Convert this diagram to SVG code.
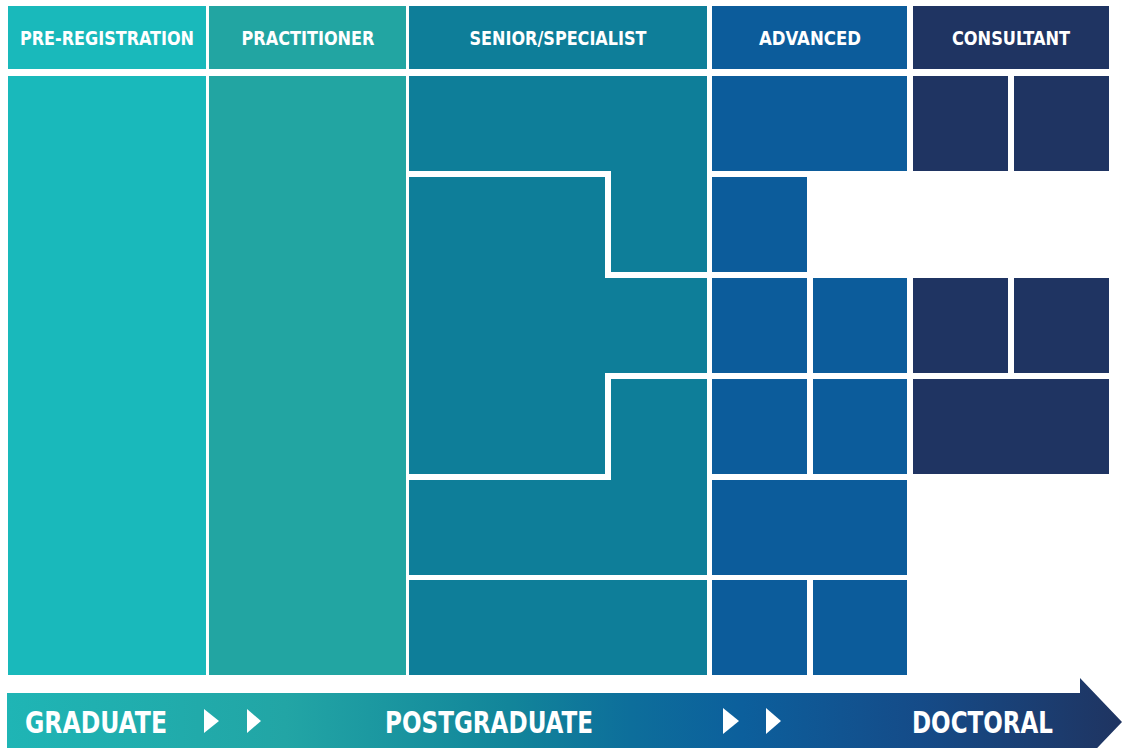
<svg xmlns="http://www.w3.org/2000/svg" width="1129" height="748" viewBox="0 0 1129 748">
  <defs>
    <linearGradient id="barGrad" gradientUnits="userSpaceOnUse" x1="7" y1="0" x2="1122" y2="0">
      <stop offset="0" stop-color="#1fb5b5"/>
      <stop offset="0.25" stop-color="#22a5a5"/>
      <stop offset="0.45" stop-color="#12859a"/>
      <stop offset="0.56" stop-color="#0d6e9b"/>
      <stop offset="0.66" stop-color="#0c5f9c"/>
      <stop offset="0.82" stop-color="#154b88"/>
      <stop offset="1" stop-color="#1f3461"/>
    </linearGradient>
    <style>
      .pre { fill: #19b9bb; }
      .prac { fill: #22a5a2; }
      .sen { fill: #0e7e99; }
      .adv { fill: #0c5c9b; }
      .con { fill: #1f3462; }
      .hdr { font-family: "DejaVu Sans Condensed", "Liberation Sans Narrow", "Liberation Sans", sans-serif; font-weight: bold; font-size: 19px; fill: #ffffff; text-anchor: middle; }
      .lvl { font-family: "DejaVu Sans Condensed", "Liberation Sans Narrow", "Liberation Sans", sans-serif; font-weight: bold; font-size: 30px; fill: #ffffff; }
      .tri { fill: #ffffff; }
    </style>
  </defs>

  <rect x="0" y="0" width="1129" height="748" fill="#ffffff"/>

  <!-- Headers -->
  <g id="hdr-pre"><rect class="pre" x="8" y="6" width="198" height="63"/><text class="hdr" x="107" y="45" textLength="174" lengthAdjust="spacingAndGlyphs">PRE-REGISTRATION</text></g>
  <g id="hdr-prac"><rect class="prac" x="209" y="6" width="197" height="63"/><text class="hdr" x="308" y="45" textLength="133" lengthAdjust="spacingAndGlyphs">PRACTITIONER</text></g>
  <g id="hdr-sen"><rect class="sen" x="409" y="6" width="298" height="63"/><text class="hdr" x="558" y="45" textLength="177" lengthAdjust="spacingAndGlyphs">SENIOR/SPECIALIST</text></g>
  <g id="hdr-adv"><rect class="adv" x="712" y="6" width="195" height="63"/><text class="hdr" x="810" y="45" textLength="102" lengthAdjust="spacingAndGlyphs">ADVANCED</text></g>
  <g id="hdr-con"><rect class="con" x="913" y="6" width="196" height="63"/><text class="hdr" x="1011" y="45" textLength="118" lengthAdjust="spacingAndGlyphs">CONSULTANT</text></g>

  <!-- Pre-registration / practitioner columns -->
  <g id="col-pre"><rect class="pre" x="8" y="76" width="198" height="599"/></g>
  <g id="col-prac"><rect class="prac" x="209" y="76" width="197" height="599"/></g>

  <!-- Senior / specialist shapes -->
  <g id="sen-1"><path class="sen" d="M409,76 H707 V272 H611 V171 H409 Z"/></g>
  <g id="sen-2"><path class="sen" d="M409,177 H605 V278 H707 V373 H605 V474 H409 Z"/></g>
  <g id="sen-3"><path class="sen" d="M611,379 H707 V575 H409 V480 H611 Z"/></g>
  <g id="sen-4"><rect class="sen" x="409" y="580" width="298" height="95"/></g>

  <!-- Advanced -->
  <g id="adv-1"><rect class="adv" x="712" y="76" width="195" height="95"/></g>
  <g id="adv-2"><rect class="adv" x="712" y="177" width="95" height="95"/></g>
  <g id="adv-3"><rect class="adv" x="712" y="278" width="95" height="95"/></g>
  <g id="adv-4"><rect class="adv" x="813" y="278" width="94" height="95"/></g>
  <g id="adv-5"><rect class="adv" x="712" y="379" width="95" height="95"/></g>
  <g id="adv-6"><rect class="adv" x="813" y="379" width="94" height="95"/></g>
  <g id="adv-7"><rect class="adv" x="712" y="480" width="195" height="95"/></g>
  <g id="adv-8"><rect class="adv" x="712" y="580" width="95" height="95"/></g>
  <g id="adv-9"><rect class="adv" x="813" y="580" width="94" height="95"/></g>

  <!-- Consultant -->
  <g id="con-1"><rect class="con" x="913" y="76" width="95" height="95"/></g>
  <g id="con-2"><rect class="con" x="1014" y="76" width="95" height="95"/></g>
  <g id="con-3"><rect class="con" x="913" y="278" width="95" height="95"/></g>
  <g id="con-4"><rect class="con" x="1014" y="278" width="95" height="95"/></g>
  <g id="con-5"><rect class="con" x="913" y="379" width="196" height="95"/></g>

  <!-- Bottom progression arrow -->
  <g id="progression">
    <path fill="url(#barGrad)" d="M7,693 H1080 V678 L1122,722 L1080,766 V751 H7 Z"/>
    <text class="lvl" x="25" y="733" textLength="142" lengthAdjust="spacingAndGlyphs">GRADUATE</text>
    <text class="lvl" x="385" y="733" textLength="208" lengthAdjust="spacingAndGlyphs">POSTGRADUATE</text>
    <text class="lvl" x="912" y="733" textLength="141" lengthAdjust="spacingAndGlyphs">DOCTORAL</text>
    <path class="tri" d="M204,709 L219,721 L204,733 Z"/>
    <path class="tri" d="M247,709 L261,721 L247,733 Z"/>
    <path class="tri" d="M723,708 L739,721 L723,734 Z"/>
    <path class="tri" d="M766,708 L781,721 L766,734 Z"/>
  </g>
</svg>
